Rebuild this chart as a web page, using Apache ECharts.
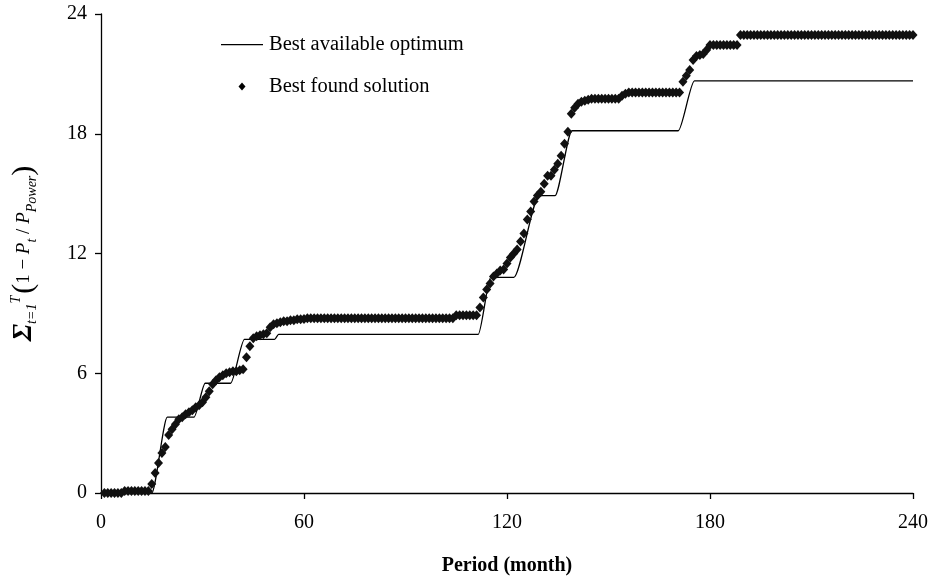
<!DOCTYPE html>
<html>
<head>
<meta charset="utf-8">
<script src="https://cdn.jsdelivr.net/npm/echarts@6/dist/echarts.min.js"></script>
<style>
  html, body { margin: 0; padding: 0; background: #fff; }
  #chart { width: 937px; height: 578px; }
</style>
</head>
<body>
<div id="chart"></div>
<script>
// best available optimum: corner points of the stepped curve (month, value)
const optMonths = [0, 15, 19.6, 27.5, 30.8, 38.3, 42.4, 51.3, 52.5, 111.5, 115.2, 122, 129.5, 134.2, 139.2, 170.6, 175.4, 240]
const optValues = [0, 0, 3.8, 3.8, 5.5, 5.5, 7.7, 7.7, 7.95, 7.95, 10.8, 10.8, 14.9, 14.9, 18.15, 18.15, 20.65, 20.65]

// best found solution, one point per month, months 1..240
const foundValues = [
  0, 0, 0, 0, 0, 0, 0.1, 0.1, 0.1, 0.1,
  0.1, 0.1, 0.1, 0.1, 0.45, 1.0, 1.5, 2.0, 2.3, 2.9,
  3.2, 3.45, 3.7, 3.8, 3.95, 4.05, 4.15, 4.3, 4.4, 4.55,
  4.8, 5.1, 5.45, 5.65, 5.8, 5.9, 6.0, 6.05, 6.1, 6.1,
  6.15, 6.2, 6.8, 7.35, 7.75, 7.85, 7.9, 7.95, 8.0, 8.3,
  8.45, 8.5, 8.55, 8.6, 8.6, 8.65, 8.65, 8.7, 8.7, 8.72,
  8.75, 8.75, 8.75, 8.75, 8.75, 8.75, 8.75, 8.75, 8.75, 8.75,
  8.75, 8.75, 8.75, 8.75, 8.75, 8.75, 8.75, 8.75, 8.75, 8.75,
  8.75, 8.75, 8.75, 8.75, 8.75, 8.75, 8.75, 8.75, 8.75, 8.75,
  8.75, 8.75, 8.75, 8.75, 8.75, 8.75, 8.75, 8.75, 8.75, 8.75,
  8.75, 8.75, 8.75, 8.75, 8.9, 8.9, 8.9, 8.9, 8.9, 8.9,
  8.9, 9.3, 9.8, 10.2, 10.5, 10.85, 11.0, 11.15, 11.2, 11.5,
  11.8, 12.0, 12.2, 12.6, 13.0, 13.7, 14.1, 14.6, 14.9, 15.1,
  15.5, 15.9, 15.9, 16.2, 16.5, 16.9, 17.5, 18.1, 19.0, 19.3,
  19.5, 19.6, 19.65, 19.7, 19.75, 19.75, 19.75, 19.75, 19.75, 19.75,
  19.75, 19.75, 19.75, 19.9, 20.0, 20.07, 20.07, 20.07, 20.07, 20.07,
  20.07, 20.07, 20.07, 20.07, 20.07, 20.07, 20.07, 20.07, 20.07, 20.07,
  20.07, 20.6, 20.9, 21.2, 21.7, 21.9, 21.95, 22.0, 22.2, 22.45,
  22.45, 22.45, 22.45, 22.45, 22.45, 22.45, 22.45, 22.45, 22.95, 22.95,
  22.95, 22.95, 22.95, 22.95, 22.95, 22.95, 22.95, 22.95, 22.95, 22.95,
  22.95, 22.95, 22.95, 22.95, 22.95, 22.95, 22.95, 22.95, 22.95, 22.95,
  22.95, 22.95, 22.95, 22.95, 22.95, 22.95, 22.95, 22.95, 22.95, 22.95,
  22.95, 22.95, 22.95, 22.95, 22.95, 22.95, 22.95, 22.95, 22.95, 22.95,
  22.95, 22.95, 22.95, 22.95, 22.95, 22.95, 22.95, 22.95, 22.95, 22.95
]
const firstMonth = 1

const xTicks = [0, 60, 120, 180, 240]
const yTicks = [0, 6, 12, 18, 24]

const FONT = '"Liberation Serif", "DejaVu Serif", serif'

// legend icons padded to the full 42x8 box so they are not stretched
const LINE_ICON = 'path://M0,0M42,8M0,3.4h42v1.3h-42Z'
const DIAMOND_ICON = 'path://M0,0M42,8M17.5,4L21,0L24.5,4L21,8Z'

const chart = echarts.init(document.getElementById('chart'), null, { renderer: 'canvas' })

const optData = optMonths.map((m, i) => [m, optValues[i]])
const foundData = foundValues.map((v, i) => [firstMonth + i, v])

const axisLine = { show: true, lineStyle: { color: '#000', width: 1.3 } }
const axisTick = { show: true, inside: false, length: 6, lineStyle: { color: '#000', width: 1.3 } }

chart.setOption({
  animation: false,
  backgroundColor: '#fff',
  textStyle: { fontFamily: FONT, color: '#000' },
  grid: { left: 101, right: 24, top: 14, bottom: 85, containLabel: false, outerBoundsMode: 'none' },
  legend: {
    orient: 'vertical',
    left: 216,
    top: 29,
    itemWidth: 42,
    itemHeight: 8,
    itemGap: 21,
    symbolKeepAspect: false,
    textStyle: { fontFamily: FONT, fontSize: 20.5, color: '#000', padding: [0, 0, 0, 1] },
    data: [
      { name: 'Best available optimum', icon: LINE_ICON, itemStyle: { color: '#000' } },
      { name: 'Best found solution', icon: DIAMOND_ICON, itemStyle: { color: '#000' } }
    ]
  },
  xAxis: {
    type: 'value',
    min: xTicks[0],
    max: xTicks[xTicks.length - 1],
    interval: 60,
    axisLine,
    axisTick,
    splitLine: { show: false },
    axisLabel: { margin: 20, fontFamily: FONT, fontSize: 20, color: '#000' },
    name: 'Period (month)',
    nameLocation: 'middle',
    nameGap: 63,
    nameTextStyle: { fontFamily: FONT, fontSize: 20, fontWeight: 'bold', color: '#000' }
  },
  yAxis: {
    type: 'value',
    min: yTicks[0],
    max: yTicks[yTicks.length - 1],
    interval: 6,
    axisLine,
    axisTick,
    splitLine: { show: false },
    axisLabel: { margin: 14, fontFamily: FONT, fontSize: 20, color: '#000' },
    name: '{sum|\u03A3}{sb|t=1}{sp|T}{br|(}{n|1 \u2212 }{it|P}{sb|t}{n| / }{it|P}{sb|Power}{br|)}',
    nameLocation: 'middle',
    nameRotate: 90,
    nameGap: 62,
    nameTextStyle: {
      fontFamily: FONT,
      color: '#000',
      rich: {
        sum: { fontFamily: FONT, fontSize: 28, fontStyle: 'italic', fontWeight: 'bold' },
        sb: { fontFamily: FONT, fontSize: 14, fontStyle: 'italic', verticalAlign: 'bottom', padding: [10, 0, 0, 0] },
        sp: { fontFamily: FONT, fontSize: 14, fontStyle: 'italic', verticalAlign: 'top', padding: [0, 2, 10, 0] },
        br: { fontFamily: FONT, fontSize: 30 },
        n: { fontFamily: FONT, fontSize: 19 },
        it: { fontFamily: FONT, fontSize: 19, fontStyle: 'italic' }
      }
    }
  },
  series: [
    {
      name: 'Best available optimum',
      type: 'line',
      data: optData,
      symbol: 'none',
      smooth: 0.25,
      smoothMonotone: 'x',
      lineStyle: { color: '#000', width: 1.3 },
      itemStyle: { color: '#000' },
      z: 2
    },
    {
      name: 'Best found solution',
      type: 'scatter',
      data: foundData,
      symbol: 'diamond',
      symbolSize: [9, 10],
      itemStyle: { color: '#111', opacity: 1 },
      z: 3
    }
  ]
})
</script>
</body>
</html>
